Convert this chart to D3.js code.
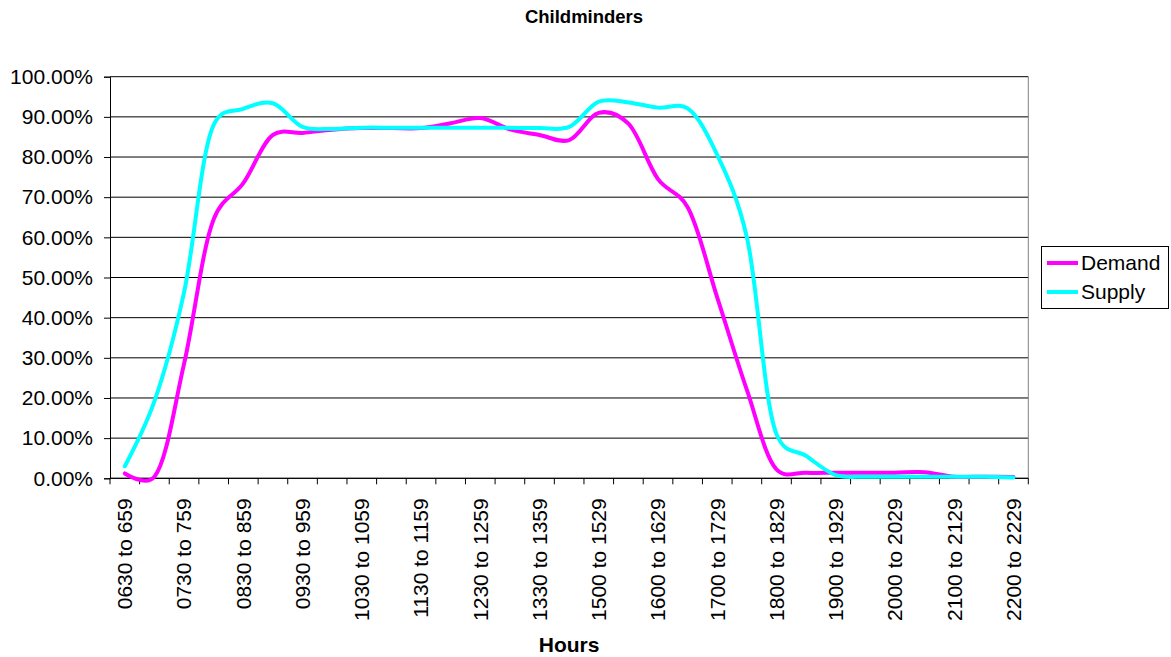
<!DOCTYPE html>
<html>
<head>
<meta charset="utf-8">
<script src="https://cdn.jsdelivr.net/npm/d3@7"></script>
<style>
  html, body { margin: 0; padding: 0; background: #fff; }
  svg { display: block; font-family: "Liberation Sans", Arial, sans-serif; }
</style>
</head>
<body>
<svg id="chart" width="1171" height="657"></svg>
<script>
const categories = [
  "0630 to 659", "0700 to 729", "0730 to 759", "0800 to 829", "0830 to 859",
  "0900 to 929", "0930 to 959", "1000 to 1029", "1030 to 1059", "1100 to 1129",
  "1130 to 1159", "1200 to 1229", "1230 to 1259", "1300 to 1329", "1330 to 1359",
  "1400 to 1459", "1500 to 1529", "1530 to 1559", "1600 to 1629", "1630 to 1659",
  "1700 to 1729", "1730 to 1759", "1800 to 1829", "1830 to 1859", "1900 to 1929",
  "1930 to 1959", "2000 to 2029", "2030 to 2059", "2100 to 2129", "2130 to 2159",
  "2200 to 2229"
];
const demand = [
  0.012, 0.004, 0.285, 0.645, 0.735, 0.855, 0.860, 0.868, 0.872, 0.872,
  0.872, 0.884, 0.897, 0.869, 0.855, 0.842, 0.910, 0.883, 0.745, 0.675,
  0.450, 0.220, 0.022, 0.014, 0.014, 0.014, 0.014, 0.015, 0.004, 0.004,
  0.003
];
const supply = [
  0.030, 0.192, 0.463, 0.880, 0.920, 0.934, 0.875, 0.870, 0.873, 0.873,
  0.873, 0.873, 0.873, 0.873, 0.872, 0.875, 0.938, 0.936, 0.923, 0.921,
  0.805, 0.600, 0.110, 0.056, 0.008, 0.004, 0.004, 0.004, 0.004, 0.004,
  0.002
];
const yTicks = [0, 0.1, 0.2, 0.3, 0.4, 0.5, 0.6, 0.7, 0.8, 0.9, 1.0];
const seriesNames = ["Demand", "Supply"];
const seriesColors = ["#ff00ff", "#00ffff"];
const titleText = "Childminders";
const xTitle = "Hours";

(function () {
const svg = d3.select("#chart");
const pL = 110, pR = 1028.3, pT = 76.7, pB = 478.3;

const x = d3.scaleBand().domain(categories).range([pL, pR]).paddingInner(0).paddingOuter(0);
const y = d3.scaleLinear().domain([0, 1]).range([pB, pT]);
const cx = c => x(c) + x.bandwidth() / 2;

// Gridlines
svg.append("g").selectAll("line").data(yTicks).join("line")
  .attr("x1", pL).attr("x2", pR)
  .attr("y1", d => y(d)).attr("y2", d => y(d))
  .attr("stroke", "#000").attr("stroke-width", 1);

// Right border of plot area
svg.append("line").attr("x1", pR).attr("x2", pR).attr("y1", pT).attr("y2", pB)
  .attr("stroke", "#808080").attr("stroke-width", 1);

// Y axis
const yAxis = d3.axisLeft(y).tickValues(yTicks).tickFormat(d3.format(".2%")).tickSize(6).tickPadding(11);
const yg = svg.append("g").attr("transform", `translate(${pL},0)`).call(yAxis);
yg.select(".domain").attr("stroke", "#000");
yg.selectAll(".tick line").attr("stroke", "#000");
yg.selectAll(".tick text").attr("font-size", "21px").attr("fill", "#000")
  .attr("font-family", "Liberation Sans, Arial, sans-serif");

// X axis line and ticks at band boundaries
svg.append("line").attr("x1", pL).attr("x2", pR).attr("y1", pB).attr("y2", pB)
  .attr("stroke", "#000").attr("stroke-width", 1);
const boundaries = categories.map(c => x(c)).concat([x(categories[categories.length - 1]) + x.bandwidth()]);
svg.append("g").selectAll("line").data(boundaries).join("line")
  .attr("x1", d => d).attr("x2", d => d)
  .attr("y1", pB).attr("y2", pB + 6)
  .attr("stroke", "#000").attr("stroke-width", 1);

// X labels (every other category)
svg.append("g").selectAll("text").data(categories.filter((c, i) => i % 2 === 0)).join("text")
  .attr("transform", d => `translate(${cx(d)},${pB + 20}) rotate(-90)`)
  .attr("text-anchor", "end")
  .attr("dy", "0.35em")
  .attr("font-size", "21px")
  .attr("fill", "#000")
  .text(d => d);

// Lines
const line = d3.line().curve(d3.curveCatmullRom.alpha(0.25))
  .x((d, i) => cx(categories[i])).y(d => y(d));
[demand, supply].forEach((s, k) => {
  svg.append("path").datum(s)
    .attr("d", line)
    .attr("fill", "none")
    .attr("stroke", seriesColors[k])
    .attr("stroke-width", 4)
    .attr("stroke-linejoin", "round")
    .attr("stroke-linecap", "round");
});

// Title
svg.append("text").attr("x", 584).attr("y", 22.5).attr("text-anchor", "middle")
  .attr("font-size", "18.5px").attr("font-weight", "bold").attr("fill", "#000").text(titleText);

// X axis title
svg.append("text").attr("x", (pL + pR) / 2).attr("y", 652).attr("text-anchor", "middle")
  .attr("font-size", "21px").attr("font-weight", "bold").attr("fill", "#000").text(xTitle);

// Legend
const lg = svg.append("g");
lg.append("rect").attr("x", 1041.5).attr("y", 246.5).attr("width", 127).attr("height", 62)
  .attr("fill", "#fff").attr("stroke", "#000").attr("stroke-width", 1);
seriesNames.forEach((n, k) => {
  const yy = 263 + k * 29;
  lg.append("line").attr("x1", 1047).attr("x2", 1078).attr("y1", yy).attr("y2", yy)
    .attr("stroke", seriesColors[k]).attr("stroke-width", 4);
  lg.append("text").attr("x", 1081).attr("y", yy).attr("dy", "0.35em")
    .attr("font-size", "21px").attr("fill", "#000").text(n);
});
})();
</script>
</body>
</html>
